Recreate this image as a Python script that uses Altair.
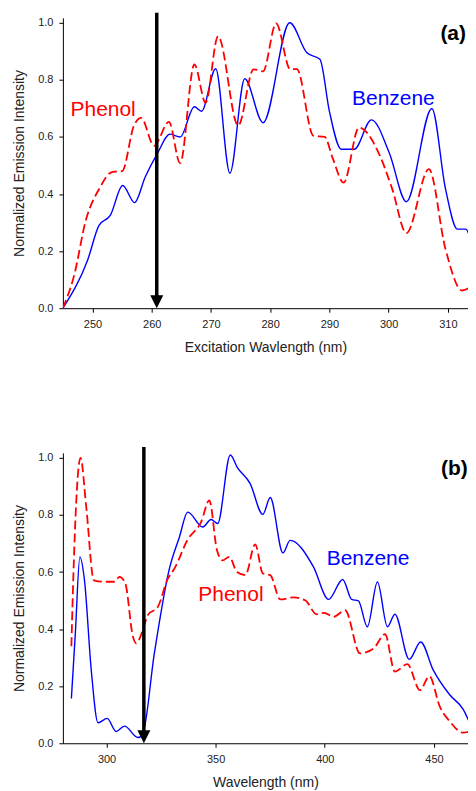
import altair as alt
import pandas as pd

# ---------------- Panel (a): excitation spectra ----------------
a_benzene_nm = [245.0, 249.2, 251.1, 253.0, 255.1, 257.1, 258.9, 260.9, 263.1, 264.8,
                267.2, 268.4, 270.8, 273.2, 275.7, 278.8, 283.3, 286.2, 288.4, 290.0,
                292.0, 294.2, 297.1, 300.1, 303.0, 307.3, 309.6, 311.6, 313.0, 314.7]
a_benzene_val = [0.0, 0.17, 0.29, 0.325, 0.43, 0.37, 0.46, 0.54, 0.61, 0.60,
                 0.706, 0.69, 0.839, 0.473, 0.804, 0.65, 1.0, 0.895, 0.872, 0.69,
                 0.557, 0.557, 0.66, 0.545, 0.373, 0.70, 0.418, 0.277, 0.277, 0.15]

a_phenol_nm = [245.0, 246.9, 248.9, 251.1, 253.4, 255.0, 257.0, 258.2, 260.4, 262.9,
               264.8, 267.2, 269.1, 271.2, 274.6, 277.2, 278.8, 281.0, 283.4, 284.5,
               287.3, 289.2, 290.6, 292.4, 295.0, 298.4, 300.6, 303.0, 306.8, 309.6,
               312.4, 314.7]
a_phenol_val = [0.0, 0.115, 0.31, 0.417, 0.478, 0.48, 0.64, 0.667, 0.569, 0.653,
                0.508, 0.854, 0.72, 0.953, 0.64, 0.837, 0.83, 0.998, 0.837, 0.838,
                0.604, 0.6, 0.523, 0.44, 0.633, 0.54, 0.418, 0.263, 0.487, 0.207,
                0.062, 0.09]

# ---------------- Panel (b): emission spectra ----------------
b_benzene_nm = [283.9, 285.7, 287.8, 289.9, 293.0, 296.1, 300.3, 304.4, 308.2, 314.4,
                316.5, 321.9, 328.8, 333.4, 337.2, 344.1, 347.9, 350.9, 356.7, 359.8,
                365.8, 371.6, 375.0, 380.8, 384.1, 394.8, 401.7, 408.2, 412.3, 415.4,
                419.5, 424.1, 428.7, 432.1, 438.7, 443.9, 449.7, 457.3, 463.4, 468.3]
b_benzene_val = [0.157, 0.385, 0.653, 0.571, 0.256, 0.072, 0.087, 0.041, 0.06, 0.02,
                 0.03, 0.315, 0.612, 0.723, 0.81, 0.758, 0.784, 0.77, 1.01, 0.968,
                 0.91, 0.802, 0.861, 0.667, 0.711, 0.618, 0.504, 0.574, 0.504, 0.499,
                 0.408, 0.565, 0.408, 0.452, 0.294, 0.355, 0.256, 0.169, 0.119, 0.035]

b_phenol_nm = [283.9, 284.6, 288.1, 290.7, 294.2, 298.4, 303.7, 305.9, 308.6, 312.1,
               313.6, 316.6, 318.9, 323.5, 328.1, 331.1, 337.2, 343.3, 347.1, 350.6,
               353.2, 356.2, 359.8, 363.6, 368.1, 371.6, 375.0, 379.6, 385.7, 391.0,
               396.3, 399.7, 404.0, 409.3, 416.1, 422.3, 427.6, 432.1, 437.8, 443.6,
               447.9, 452.7, 457.3, 463.4, 467.2]
b_phenol_val = [0.34, 0.536, 1.0, 0.828, 0.571, 0.566, 0.566, 0.583, 0.56, 0.373,
                0.35, 0.396, 0.449, 0.478, 0.577, 0.612, 0.714, 0.775, 0.851, 0.676,
                0.641, 0.653, 0.6, 0.589, 0.697, 0.595, 0.589, 0.504, 0.511, 0.501,
                0.452, 0.457, 0.443, 0.466, 0.315, 0.332, 0.382, 0.251, 0.277, 0.186,
                0.235, 0.128, 0.076, 0.037, 0.044]

# Annotations
a_ticks = [250, 260, 270, 280, 290, 300, 310]
b_ticks = [300, 350, 400, 450]
y_ticks = [0.0, 0.2, 0.4, 0.6, 0.8, 1.0]
a_arrow_nm = [260.85]
b_arrow_nm = [317.1]
a_label_text = ["Phenol", "Benzene"]
a_label_nm = [251.8, 300.8]
a_label_val = [0.674, 0.711]
b_label_text = ["Benzene", "Phenol"]
b_label_nm = [419.8, 357.0]
b_label_val = [0.624, 0.498]
label_colors = {"Phenol": "#ff0000", "Benzene": "#0000ff"}

FONT = "Liberation Sans"
W, H = 406, 291
YMAX = 1.0175


def panel(benz_nm, benz_val, phen_nm, phen_val, xdom, xticks, xtitle,
          arrow_nm, lab_text, lab_nm, lab_val, tag, tag_nm, arrow_top):
    xs = alt.Scale(domain=xdom, nice=False, zero=False)
    ys = alt.Scale(domain=[0, YMAX], nice=False, zero=False)
    xax = alt.Axis(values=xticks, format="d", title=xtitle)
    yax = alt.Axis(values=y_ticks, format=".1f", title="Normalized Emission Intensity")

    benz = pd.DataFrame({"nm": benz_nm, "v": benz_val})
    phen = pd.DataFrame({"nm": phen_nm, "v": phen_val})

    l_benz = alt.Chart(benz).mark_line(
        color="#0000ff", strokeWidth=1.4, interpolate="monotone", clip=True
    ).encode(x=alt.X("nm:Q", scale=xs, axis=xax), y=alt.Y("v:Q", scale=ys, axis=yax))
    l_phen = alt.Chart(phen).mark_line(
        color="#ff0000", strokeWidth=1.8, strokeDash=[9, 4], interpolate="monotone", clip=True
    ).encode(x="nm:Q", y="v:Q")

    arrow = pd.DataFrame({"nm": arrow_nm})
    rule = alt.Chart(arrow).mark_rule(color="black", strokeWidth=3.5).encode(
        x="nm:Q", y=alt.value(arrow_top), y2=alt.value(H - 11))
    head = alt.Chart(arrow).mark_point(
        shape="M-1,-1L1,-1L0,1Z", filled=True, color="black", opacity=1, size=169
    ).encode(x="nm:Q", y=alt.value(H - 6.5))

    labs = pd.DataFrame({"t": lab_text, "nm": lab_nm, "v": lab_val,
                         "c": [label_colors[t] for t in lab_text]})
    texts = alt.Chart(labs).mark_text(
        font=FONT, fontSize=21, align="center", baseline="alphabetic"
    ).encode(x="nm:Q", y="v:Q", text="t:N", color=alt.Color("c:N", scale=None))

    tagdf = pd.DataFrame({"t": [tag], "nm": [tag_nm], "v": [0.939]})
    tagt = alt.Chart(tagdf).mark_text(
        font=FONT, fontSize=21, fontWeight="bold", align="center", baseline="alphabetic",
        color="black"
    ).encode(x="nm:Q", y="v:Q", text="t:N")

    return alt.layer(l_benz, l_phen, rule, head, texts, tagt).properties(width=W, height=H)


pa = panel(a_benzene_nm, a_benzene_val, a_phenol_nm, a_phenol_val, [245, 313.4], a_ticks,
           "Excitation Wavlength (nm)", a_arrow_nm, a_label_text, a_label_nm, a_label_val,
           "(a)", 310.9, -5)
pb = panel(b_benzene_nm, b_benzene_val, b_phenol_nm, b_phenol_val, [280, 465.6], b_ticks,
           "Wavelength (nm)", b_arrow_nm, b_label_text, b_label_nm, b_label_val,
           "(b)", 459.4, -6)

chart = alt.vconcat(pa, pb, spacing=91).properties(
    padding={"top": 2, "left": 4, "right": 0, "bottom": 0}
).configure_view(stroke=None).configure_axis(
    grid=False, domainColor="black", tickColor="black", domainWidth=1, tickWidth=1,
    tickSize=4, labelPadding=6, labelFont=FONT, labelFontSize=11, labelColor="#222222",
    titleFont=FONT, titleFontSize=14, titleFontWeight="normal", titleColor="#222222",
    titlePadding=11
)

chart.save("out.html", embed_options={"renderer": "svg", "actions": False})
